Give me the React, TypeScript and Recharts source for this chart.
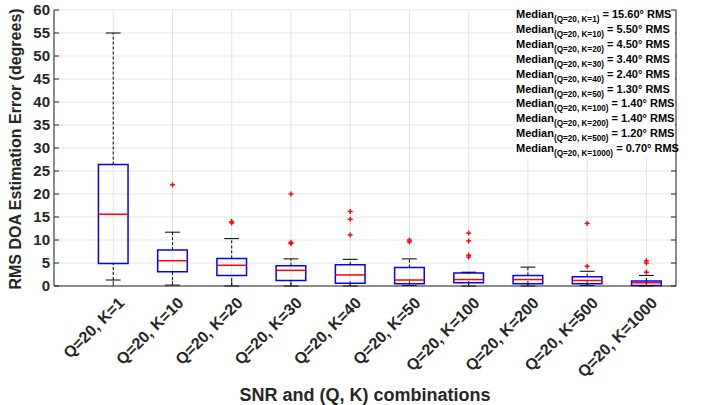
import React from 'react';
import {
  ComposedChart,
  XAxis,
  YAxis,
  CartesianGrid,
  Scatter,
  ReferenceArea,
  ReferenceLine,
} from 'recharts';

// box plot stats per (Q, K) combination
const categories = [
  'Q=20, K=1',
  'Q=20, K=10',
  'Q=20, K=20',
  'Q=20, K=30',
  'Q=20, K=40',
  'Q=20, K=50',
  'Q=20, K=100',
  'Q=20, K=200',
  'Q=20, K=500',
  'Q=20, K=1000',
];
const lowWhisker = [1.3, 0.2, 0, 0, 0, 0.1, 0, 0, 0.1, 0];
const q1 = [4.9, 3.1, 2.3, 1.2, 0.6, 0.5, 0.7, 0.5, 0.5, 0.1];
const medians = [15.6, 5.5, 4.5, 3.4, 2.4, 1.3, 1.4, 1.4, 1.2, 0.7];
const q3 = [26.4, 7.8, 6.0, 4.4, 4.6, 4.0, 2.8, 2.3, 2.0, 1.1];
const highWhisker = [55, 11.7, 10.3, 5.9, 5.8, 5.9, 3.0, 4.1, 3.2, 2.3];
const outliers: number[][] = [
  [],
  [22],
  [13.7, 14.0],
  [20, 9.5, 9.2],
  [16.2, 14.5, 11.1],
  [10.0, 9.6],
  [11.5, 9.8, 6.7, 6.3],
  [],
  [13.6, 4.3],
  [5.5, 5.0, 3.0],
];
const yTicks = [0, 5, 10, 15, 20, 25, 30, 35, 40, 45, 50, 55, 60];
const xTicks = categories.map((_, i) => i + 1);

const font = '"Liberation Sans", Arial, Helvetica, sans-serif';
const axisColor = '#262626';
const BOX_HALF = 0.25;
const CAP_HALF = 0.125;

const outlierPoints = outliers.flatMap((vals, i) => vals.map((v) => ({ x: i + 1, y: v })));

const LeftTick = ({ x, y, payload }: any) => (
  <g>
    <line x1={x} x2={x + 5} y1={y} y2={y} stroke={axisColor} />
    <text
      x={x - 4}
      y={y}
      dy="0.36em"
      textAnchor="end"
      fontSize={15}
      fontWeight="bold"
      fontFamily={font}
      fill={axisColor}
    >
      {payload.value}
    </text>
  </g>
);

const RightTick = ({ x, y }: any) => <line x1={x} x2={x - 5} y1={y} y2={y} stroke={axisColor} />;

const TopTick = ({ x, y }: any) => <line x1={x} x2={x} y1={y} y2={y + 5} stroke={axisColor} />;

const BottomTick = ({ x, y, payload }: any) => {
  const ax = x + 12;
  const ay = y + 18;
  return (
    <g>
      <line x1={x} x2={x} y1={y} y2={y - 5} stroke={axisColor} />
      <text
        x={ax}
        y={ay}
        transform={`rotate(-45, ${ax}, ${ay})`}
        textAnchor="end"
        fontSize={16}
        fontWeight="bold"
        fontFamily={font}
        fill={axisColor}
      >
        {categories[payload.value - 1]}
      </text>
    </g>
  );
};

const PlusMarker = ({ cx, cy }: any) => (
  <g stroke="#ff0000" strokeWidth={1.4}>
    <line x1={cx - 2.5} x2={cx + 2.5} y1={cy} y2={cy} />
    <line x1={cx} x2={cx} y1={cy - 2.5} y2={cy + 2.5} />
  </g>
);

const YTitle = () => (
  <text
    x={21}
    y={149}
    transform="rotate(-90, 21, 149)"
    textAnchor="middle"
    fontSize={16}
    fontWeight="bold"
    fontFamily={font}
    fill={axisColor}
  >
    RMS DOA Estimation Error (degrees)
  </text>
);

const XTitle = () => (
  <text x={365} y={401} textAnchor="middle" fontSize={18} fontWeight="bold" fontFamily={font} fill={axisColor}>
    SNR and (Q, K) combinations
  </text>
);

export default function App() {
  return (
    <div style={{ position: 'absolute', left: 0, top: 0, width: 703, height: 405, background: '#fff' }}>
      <ComposedChart width={703} height={405} margin={{ top: 10, right: 26, bottom: 0, left: 0 }}>
        <CartesianGrid stroke="#e3e3e3" strokeWidth={1} />
        <XAxis
          dataKey="x"
          type="number"
          domain={[0, 10.5]}
          ticks={xTicks}
          interval={0}
          allowDataOverflow
          height={119}
          tickSize={0}
          tickMargin={0}
          tickLine={false}
          stroke={axisColor}
          tick={<BottomTick />}
          label={<XTitle />}
        />
        <XAxis
          xAxisId="top"
          orientation="top"
          type="number"
          domain={[0, 10.5]}
          ticks={xTicks}
          interval={0}
          allowDataOverflow
          height={0}
          tickSize={0}
          tickMargin={0}
          tickLine={false}
          stroke={axisColor}
          tick={<TopTick />}
        />
        <YAxis
          dataKey="y"
          type="number"
          domain={[0, 60]}
          ticks={yTicks}
          interval={0}
          allowDataOverflow
          width={54}
          tickSize={0}
          tickMargin={0}
          tickLine={false}
          stroke={axisColor}
          tick={<LeftTick />}
          label={<YTitle />}
        />
        <YAxis
          yAxisId="right"
          orientation="right"
          type="number"
          domain={[0, 60]}
          ticks={yTicks}
          interval={0}
          allowDataOverflow
          width={1}
          tickSize={0}
          tickMargin={0}
          tickLine={false}
          stroke={axisColor}
          tick={<RightTick />}
        />

        {/* whiskers */}
        {xTicks.map((x, i) => (
          <ReferenceLine
            key={`wu${i}`}
            segment={[{ x, y: q3[i] }, { x, y: highWhisker[i] }]}
            stroke="#000"
            strokeDasharray="3 2"
          />
        ))}
        {xTicks.map((x, i) => (
          <ReferenceLine
            key={`wl${i}`}
            segment={[{ x, y: lowWhisker[i] }, { x, y: q1[i] }]}
            stroke="#000"
            strokeDasharray="3 2"
          />
        ))}
        {xTicks.map((x, i) => (
          <ReferenceLine
            key={`cu${i}`}
            segment={[{ x: x - CAP_HALF, y: highWhisker[i] }, { x: x + CAP_HALF, y: highWhisker[i] }]}
            stroke="#000"
          />
        ))}
        {xTicks.map((x, i) => (
          <ReferenceLine
            key={`cl${i}`}
            segment={[{ x: x - CAP_HALF, y: lowWhisker[i] }, { x: x + CAP_HALF, y: lowWhisker[i] }]}
            stroke="#000"
          />
        ))}

        {/* boxes */}
        {xTicks.map((x, i) => (
          <ReferenceArea
            key={`b${i}`}
            x1={x - BOX_HALF}
            x2={x + BOX_HALF}
            y1={q1[i]}
            y2={q3[i]}
            fill="none"
            fillOpacity={0}
            stroke="#0000ff"
            strokeWidth={1.5}
          />
        ))}
        {xTicks.map((x, i) => (
          <ReferenceLine
            key={`m${i}`}
            segment={[{ x: x - BOX_HALF, y: medians[i] }, { x: x + BOX_HALF, y: medians[i] }]}
            stroke="#ff0000"
            strokeWidth={1.5}
          />
        ))}

        <Scatter data={outlierPoints} shape={<PlusMarker />} isAnimationActive={false} />
      </ComposedChart>

      <svg
        width={703}
        height={405}
        style={{ position: 'absolute', left: 0, top: 0, pointerEvents: 'none' }}
      >
        <rect x={513} y={15} width={162} height={143} fill="#fff" />
        {categories.map((c, i) => (
          <text key={c} x={516} y={18 + i * 14.9} fontSize={11} fontWeight="bold" fontFamily={font} fill="#000">
            Median
            <tspan fontSize={8.2} dy={4}>
              ({c})
            </tspan>
            <tspan dy={-4}> = {medians[i].toFixed(2)}° RMS</tspan>
          </text>
        ))}
      </svg>
    </div>
  );
}
